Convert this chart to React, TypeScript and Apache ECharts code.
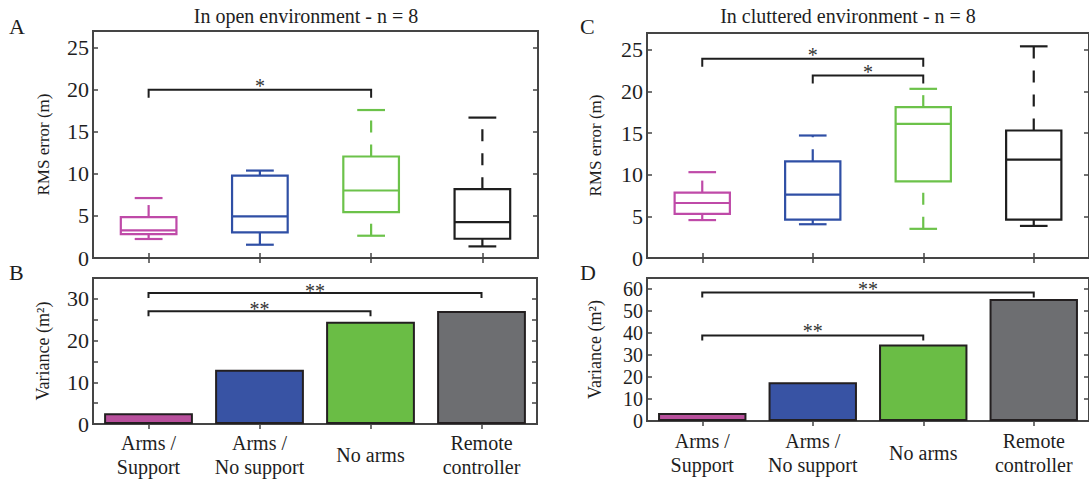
import React, { useEffect, useRef } from "react";
import * as echarts from "echarts";

const categories = ["Arms /\nSupport", "Arms /\nNo support", "No arms", "Remote\ncontroller"];

// Panel A: RMS error, open environment
const openMin = [2.26, 1.58, 2.65, 1.38];
const openQ1 = [2.85, 3.04, 5.46, 2.29];
const openMedian = [3.28, 4.94, 8.03, 4.27];
const openQ3 = [4.87, 9.8, 12.07, 8.19];
const openMax = [7.13, 10.4, 17.6, 16.7];

// Panel C: RMS error, cluttered environment
const clutMin = [4.55, 4.05, 3.5, 3.85];
const clutQ1 = [5.3, 4.6, 9.2, 4.6];
const clutMedian = [6.6, 7.6, 16.1, 11.8];
const clutQ3 = [7.85, 11.6, 18.1, 15.3];
const clutMax = [10.3, 14.7, 20.3, 25.4];

// Panels B and D: variance
const openVariance = [2.6, 13.0, 24.5, 27.1];
const clutVariance = [3.6, 17.6, 34.8, 55.4];

// Significance brackets: [from category, to category, height, label]
const openRmsSig: [number, number, number, string][] = [[0, 2, 20.0, "*"]];
const openVarSig: [number, number, number, string][] = [[0, 3, 31.4, "**"], [0, 2, 27.0, "**"]];
const clutRmsSig: [number, number, number, string][] = [[0, 2, 23.9, "*"], [1, 2, 21.9, "*"]];
const clutVarSig: [number, number, number, string][] = [[0, 3, 58.4, "**"], [0, 2, 38.9, "**"]];

const boxColors = ["#bf4aa8", "#2f4fa5", "#6cc24a", "#1e1e1e"];
const barColors = ["#b8509c", "#3853a4", "#6abd45", "#6d6e71"];

const FONT = "Liberation Serif";
const AXIS_COLOR = "#454545";
const TEXT_COLOR = "#1e1e1e";

function boxData(mn: number[], q1: number[], md: number[], q3: number[], mx: number[]) {
  return categories.map((_, i) => [i, mn[i], q1[i], md[i], q3[i], mx[i]]);
}

function renderBox(params: any, api: any) {
  const i = api.value(0);
  const color = boxColors[i];
  const band = api.size([1, 0])[0];
  const bw = band * 0.5;
  const cw = band * 0.25;
  const pMin = api.coord([i, api.value(1)]);
  const pQ1 = api.coord([i, api.value(2)]);
  const pMed = api.coord([i, api.value(3)]);
  const pQ3 = api.coord([i, api.value(4)]);
  const pMax = api.coord([i, api.value(5)]);
  const cx = pMed[0];
  const solid = { stroke: color, lineWidth: 2.2, fill: "none" };
  const dashed = { stroke: color, lineWidth: 2.2, fill: "none", lineDash: [12, 12] };
  return {
    type: "group",
    children: [
      { type: "line", shape: { x1: cx, y1: pQ3[1], x2: cx, y2: pMax[1] }, style: dashed },
      { type: "line", shape: { x1: cx, y1: pMin[1], x2: cx, y2: pQ1[1] }, style: dashed },
      { type: "line", shape: { x1: cx - cw / 2, y1: pMax[1], x2: cx + cw / 2, y2: pMax[1] }, style: solid },
      { type: "line", shape: { x1: cx - cw / 2, y1: pMin[1], x2: cx + cw / 2, y2: pMin[1] }, style: solid },
      { type: "rect", shape: { x: cx - bw / 2, y: pQ3[1], width: bw, height: pQ1[1] - pQ3[1] }, style: solid },
      { type: "line", shape: { x1: cx - bw / 2, y1: pMed[1], x2: cx + bw / 2, y2: pMed[1] }, style: solid },
    ],
  };
}

function makeBracketRenderer(sig: [number, number, number, string][], leg: number, starLift: number, starSize: number) {
  return (params: any, api: any) => {
    const a = api.coord([api.value(0), api.value(2)]);
    const b = api.coord([api.value(1), api.value(2)]);
    const label = sig[params.dataIndex][3];
    return {
      type: "group",
      children: [
        {
          type: "polyline",
          shape: { points: [[a[0], a[1] + leg], [a[0], a[1]], [b[0], b[1]], [b[0], b[1] + leg]] },
          style: { stroke: TEXT_COLOR, lineWidth: 2, fill: "none" },
        },
        {
          type: "text",
          x: (a[0] + b[0]) / 2,
          y: a[1] - starLift,
          style: { text: label, fontSize: starSize, fontFamily: FONT, fill: "#333", align: "center", verticalAlign: "middle" },
        },
      ],
    };
  };
}

const tickStyle = { color: AXIS_COLOR, width: 1.5 };

function xAxes(gridIndex: number, showLabels: boolean, labelMargin: number) {
  const base = {
    type: "category",
    gridIndex,
    data: categories,
    axisLine: { show: false },
    axisTick: { show: true, inside: true, alignWithLabel: true, length: 5, lineStyle: tickStyle },
    splitLine: { show: false },
  };
  return [
    {
      ...base,
      position: "bottom",
      axisLabel: {
        show: showLabels,
        interval: 0,
        fontFamily: FONT,
        fontSize: 20,
        lineHeight: 24,
        color: TEXT_COLOR,
        margin: labelMargin,
        verticalAlign: "middle",
      },
    },
    { ...base, position: "top", axisLabel: { show: false } },
  ];
}

function yAxes(
  gridIndex: number,
  max: number,
  interval: number,
  labelStep: number,
  name: string,
  nameSize: number,
  nameGap: number,
  labelSize: number
) {
  const base = {
    type: "value",
    gridIndex,
    min: 0,
    max,
    interval,
    axisLine: { show: false },
    axisTick: { show: true, inside: true, length: 5, lineStyle: tickStyle },
    splitLine: { show: false },
  };
  const lastLabel = Math.floor(max / labelStep) * labelStep;
  return [
    {
      ...base,
      position: "left",
      name,
      nameLocation: "middle",
      nameGap,
      nameTextStyle: { fontFamily: FONT, fontSize: nameSize, color: TEXT_COLOR },
      axisLabel: {
        fontFamily: FONT,
        fontSize: labelSize,
        color: TEXT_COLOR,
        margin: 4,
        formatter: (v: number) => (v % labelStep === 0 && v <= lastLabel ? String(v) : ""),
      },
    },
    { ...base, position: "right", axisLabel: { show: false } },
  ];
}

const gridStyle = { show: true, borderColor: AXIS_COLOR, borderWidth: 2, backgroundColor: "transparent" };

export default function App() {
  const ref = useRef<HTMLDivElement>(null);
  useEffect(() => {
    if (!ref.current) return;
    const chart = echarts.init(ref.current, null, { renderer: "svg" });
    const option: any = {
      animation: false,
      backgroundColor: "#ffffff",
      textStyle: { fontFamily: FONT, color: TEXT_COLOR },
      grid: [
        { left: 93, top: 31, width: 445, height: 227, ...gridStyle },
        { left: 93, top: 278, width: 444, height: 146, ...gridStyle },
        { left: 647, top: 33, width: 443, height: 225, ...gridStyle },
        { left: 647, top: 278, width: 443, height: 143, ...gridStyle },
      ],
      xAxis: [
        ...xAxes(0, false, 0),
        ...xAxes(1, true, 31),
        ...xAxes(2, false, 0),
        ...xAxes(3, true, 32),
      ],
      yAxis: [
        ...yAxes(0, 27, 5, 5, "RMS error (m)", 17, 41, 22),
        ...yAxes(1, 35, 5, 10, "Variance (m²)", 18, 41, 22),
        ...yAxes(2, 27, 5, 5, "RMS error (m)", 17, 43, 22),
        ...yAxes(3, 65, 10, 10, "Variance (m²)", 18, 43, 20),
      ],
      graphic: [
        { type: "text", left: 9, top: 15, style: { text: "A", fontFamily: FONT, fontSize: 22, fill: TEXT_COLOR } },
        { type: "text", left: 9, top: 261, style: { text: "B", fontFamily: FONT, fontSize: 22, fill: TEXT_COLOR } },
        { type: "text", left: 580, top: 15, style: { text: "C", fontFamily: FONT, fontSize: 22, fill: TEXT_COLOR } },
        { type: "text", left: 580, top: 261, style: { text: "D", fontFamily: FONT, fontSize: 22, fill: TEXT_COLOR } },
        {
          type: "text",
          x: 306,
          y: 16,
          style: { text: "In open environment - n = 8", fontFamily: FONT, fontSize: 20, fill: TEXT_COLOR, align: "center", verticalAlign: "middle" },
        },
        {
          type: "text",
          x: 848,
          y: 16,
          style: { text: "In cluttered environment - n = 8", fontFamily: FONT, fontSize: 20, fill: TEXT_COLOR, align: "center", verticalAlign: "middle" },
        },
      ],
      series: [
        {
          type: "custom",
          xAxisIndex: 0,
          yAxisIndex: 0,
          renderItem: renderBox,
          data: boxData(openMin, openQ1, openMedian, openQ3, openMax),
          encode: { x: 0, y: [1, 2, 3, 4, 5] },
          z: 3,
        },
        {
          type: "custom",
          xAxisIndex: 0,
          yAxisIndex: 0,
          renderItem: makeBracketRenderer(openRmsSig, 8, 4, 20),
          data: openRmsSig.map((s) => [s[0], s[1], s[2]]),
          encode: { x: [0, 1], y: 2 },
          z: 4,
        },
        {
          type: "bar",
          xAxisIndex: 2,
          yAxisIndex: 2,
          barWidth: "80%",
          data: openVariance.map((v, i) => ({
            value: v,
            itemStyle: { color: barColors[i], borderColor: "#231f20", borderWidth: 2 },
          })),
          z: 3,
        },
        {
          type: "custom",
          xAxisIndex: 2,
          yAxisIndex: 2,
          renderItem: makeBracketRenderer(openVarSig, 5, 2, 20),
          data: openVarSig.map((s) => [s[0], s[1], s[2]]),
          encode: { x: [0, 1], y: 2 },
          z: 4,
        },
        {
          type: "custom",
          xAxisIndex: 4,
          yAxisIndex: 4,
          renderItem: renderBox,
          data: boxData(clutMin, clutQ1, clutMedian, clutQ3, clutMax),
          encode: { x: 0, y: [1, 2, 3, 4, 5] },
          z: 3,
        },
        {
          type: "custom",
          xAxisIndex: 4,
          yAxisIndex: 4,
          renderItem: makeBracketRenderer(clutRmsSig, 8, 4, 20),
          data: clutRmsSig.map((s) => [s[0], s[1], s[2]]),
          encode: { x: [0, 1], y: 2 },
          z: 4,
        },
        {
          type: "bar",
          xAxisIndex: 6,
          yAxisIndex: 6,
          barWidth: "80%",
          data: clutVariance.map((v, i) => ({
            value: v,
            itemStyle: { color: barColors[i], borderColor: "#231f20", borderWidth: 2 },
          })),
          z: 3,
        },
        {
          type: "custom",
          xAxisIndex: 6,
          yAxisIndex: 6,
          renderItem: makeBracketRenderer(clutVarSig, 5, 4, 20),
          data: clutVarSig.map((s) => [s[0], s[1], s[2]]),
          encode: { x: [0, 1], y: 2 },
          z: 4,
        },
      ],
    };
    chart.setOption(option);
    return () => chart.dispose();
  }, []);
  return <div ref={ref} style={{ position: "fixed", left: 0, top: 0, width: 1089, height: 480 }} />;
}
